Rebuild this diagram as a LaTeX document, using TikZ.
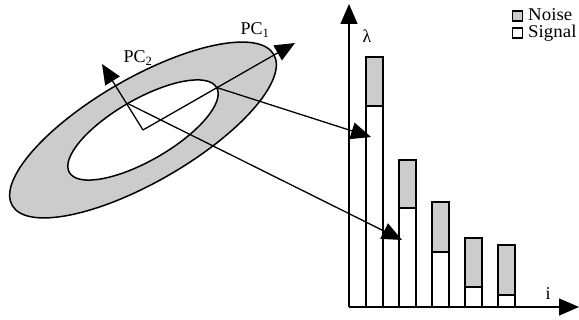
\documentclass[tikz,border=0pt]{standalone}
\usepackage{fontspec}
\setmainfont{Liberation Serif}
\usetikzlibrary{arrows.meta}
\definecolor{noisegray}{RGB}{204,204,204}

\begin{document}
\begin{tikzpicture}[
        x=1pt, y=1pt,
        lbl/.style={font=\fontsize{18}{20}\selectfont, inner sep=0pt},
        axisline/.style={line width=1.4pt, -{Triangle[length=20pt, width=17pt]}},
        maparrow/.style={line width=1.3pt, -{Triangle[length=20pt, width=17pt]}},
        ring/.style={line width=1.5pt},
        bar/.style={line width=2pt}
    ]
    \useasboundingbox (0,0) rectangle (579,320);

    % Data cloud with principal components
    \coordinate (c) at (143,190);
    \draw[ring, fill=noisegray] (c) ellipse [x radius=151, y radius=52, rotate=30];
    \draw[ring, fill=white] (c) ellipse [x radius=85, y radius=30.6, rotate=30];
    \coordinate (pc1) at (295,277);
    \coordinate (pc2) at (102,256);
    \draw[maparrow] (c) -- (pc1);
    \draw[maparrow] (c) -- (pc2);
    \node[lbl] (pc1lbl) at (255,290) {PC\textsubscript{1}};
    \node[lbl] (pc2lbl) at (138,262) {PC\textsubscript{2}};

    % Eigenvalue chart
    \coordinate (o) at (349,13);
    \coordinate (ytop) at (349,316);
    \coordinate (xend) at (579,13);
    \foreach \x/\s/\t in {366/214/263, 399/112/160, 432/68/118, 465/33/82, 498/25/75} {
        \draw[bar, fill=noisegray] (\x,\s) rectangle (\x+17,\t);
        \draw[bar] (\x,13) rectangle (\x+17,\s);
    }
    \draw[axisline] (o) -- (ytop);
    \draw[axisline] (o) -- (xend);
    \node[lbl] (lam) at (367,284) {λ};
    \node[lbl] (ilbl) at (548,26) {i};

    % Mapping arrows
    \coordinate (e1) at (216.6,232.5);
    \coordinate (e2) at (127.7,216.5);
    \coordinate (t1) at (371,183);
    \coordinate (t2) at (402,80);
    \draw[maparrow] (e1) -- (t1);
    \draw[maparrow] (e2) -- (t2);

    % Legend
    \node[draw, line width=1.6pt, fill=noisegray, minimum size=10pt, inner sep=0pt] (noisebox) at (517.5,304) {};
    \node[draw, line width=1.6pt, fill=white, minimum size=10pt, inner sep=0pt] (signalbox) at (517.5,287) {};
    \node[lbl, anchor=base west, xscale=1.05] (noisetxt) at (528,299.5) {Noise};
    \node[lbl, anchor=base west, xscale=1.05] (signaltxt) at (528,282) {Signal};

\end{tikzpicture}
\end{document}
